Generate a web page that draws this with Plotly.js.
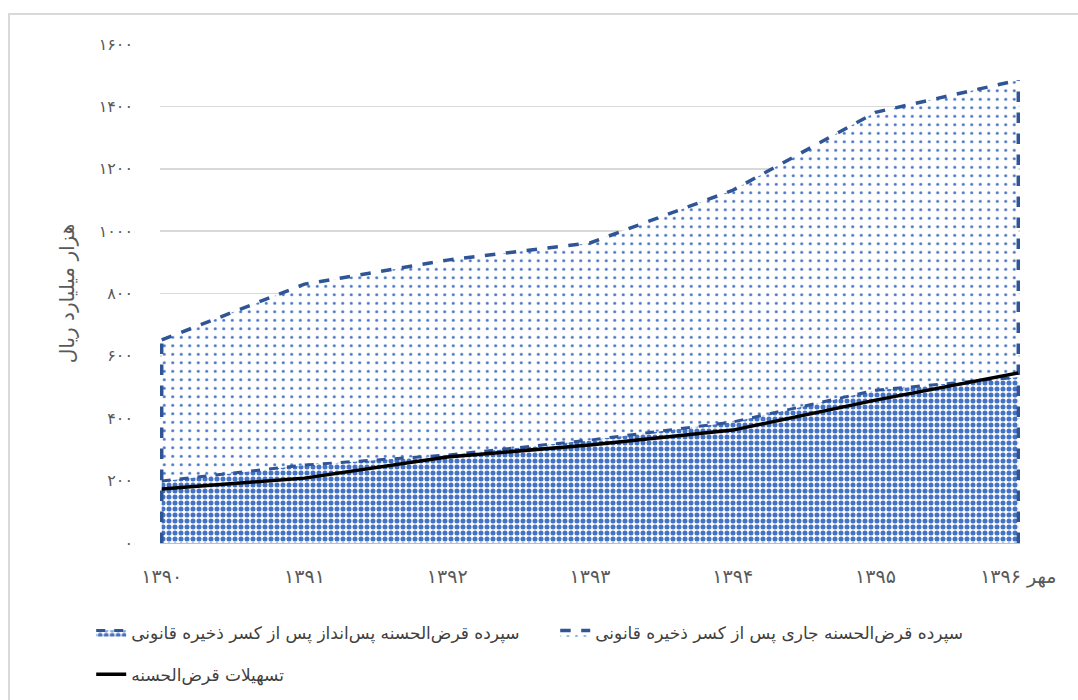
<!DOCTYPE html>
<html>
<head>
<meta charset="utf-8">
<script src="https://cdn.plot.ly/plotly-3.0.1.min.js"></script>
<style>
  html, body { margin: 0; padding: 0; background: #ffffff; }
  #chart { width: 1078px; height: 700px; }
  #frame { position: absolute; left: 8px; top: 13px; width: 1080px; height: 700px;
           border-left: 2px solid #d9d9d9; border-top: 2px solid #d9d9d9; pointer-events: none; }
</style>
</head>
<body>
<div id="chart"></div>
<div id="frame"></div>
<script>
// Categories (years) and their tick labels
const years = ["1390", "1391", "1392", "1393", "1394", "1395", "1396"];
const yearLabels = ["۱۳۹۰", "۱۳۹۱", "۱۳۹۲", "۱۳۹۳", "۱۳۹۴", "۱۳۹۵", "مهر ۱۳۹۶"];

// Series (thousand billion rials)
const savingsDeposits = [199, 250, 282, 330, 388, 490, 532];   // پس‌انداز (lower, dense pattern)
const currentDeposits = [452, 580, 625, 632, 743, 891, 952];   // جاری (stacked on top, dotted pattern)
const loans = [173, 208, 276, 314, 362, 458, 545];              // تسهیلات

// Y ticks
const yTickVals = [0, 200, 400, 600, 800, 1000, 1200, 1400, 1600];
const yTickText = ["۰", "۲۰۰", "۴۰۰", "۶۰۰", "۸۰۰", "۱۰۰۰", "۱۲۰۰", "۱۴۰۰", "۱۶۰۰"];

const nameSavings = "سپرده قرض‌الحسنه پس‌انداز پس از کسر ذخیره قانونی";
const nameCurrent = "سپرده قرض‌الحسنه جاری پس از کسر ذخیره قانونی";
const nameLoans = "تسهیلات قرض‌الحسنه";

const blue = "#4472c4";
const darkBlue = "#2f5597";
const totals = savingsDeposits.map((v, i) => v + currentDeposits[i]);
const first = years[0], last = years[years.length - 1];

const traces = [
  {
    x: years, y: savingsDeposits, name: nameSavings, type: "scatter", mode: "lines",
    stackgroup: "dep", legend: "legend",
    line: { color: darkBlue, width: 3, dash: "dash" },
    fillcolor: "rgba(255,255,255,0)",
    fillpattern: { shape: ".", fgcolor: blue, bgcolor: "#ffffff", size: 6, solidity: 0.55, fillmode: "replace" },
    hoverinfo: "skip"
  },
  {
    x: years, y: currentDeposits, name: nameCurrent, type: "scatter", mode: "lines",
    stackgroup: "dep", legend: "legend",
    line: { color: darkBlue, width: 3.5, dash: "dash" },
    fillcolor: "rgba(255,255,255,0)",
    fillpattern: { shape: ".", fgcolor: blue, bgcolor: "#ffffff", size: 8.5, solidity: 0.1, fillmode: "replace" },
    hoverinfo: "skip"
  },
  // vertical dashed outline edges of the stacked area
  {
    x: [first, first], y: [0, totals[0]], type: "scatter", mode: "lines", showlegend: false,
    line: { color: darkBlue, width: 3.5, dash: "dash" }, hoverinfo: "skip"
  },
  {
    x: [last, last], y: [0, totals[totals.length - 1]], type: "scatter", mode: "lines", showlegend: false,
    line: { color: darkBlue, width: 3.5, dash: "dash" }, hoverinfo: "skip"
  },
  {
    x: years, y: loans, name: nameLoans, type: "scatter", mode: "lines", legend: "legend2",
    line: { color: "#000000", width: 3.5 }, hoverinfo: "skip"
  }
];

const ff = "DejaVu Sans, sans-serif";
const legendFont = { family: ff, size: 17, color: "#404040" };

const layout = {
  width: 1078, height: 700,
  paper_bgcolor: "rgba(0,0,0,0)", plot_bgcolor: "#ffffff",
  margin: { l: 160, r: 58, t: 44, b: 157, pad: 0, autoexpand: false },
  font: { family: ff, color: "#595959" },
  showlegend: true,
  legend: {
    orientation: "h", x: -0.08, xanchor: "left", y: -0.144, yanchor: "top",
    traceorder: "normal", entrywidth: 419, entrywidthmode: "pixels",
    font: legendFont, itemwidth: 30, tracegroupgap: 0
  },
  legend2: {
    orientation: "h", x: -0.08, xanchor: "left", y: -0.228, yanchor: "top",
    traceorder: "normal", font: legendFont, itemwidth: 30
  },
  xaxis: {
    type: "category", range: [-0.012, 6.012],
    tickvals: years, ticktext: yearLabels,
    showgrid: false, zeroline: false,
    showline: true, linecolor: "#bfbfbf", linewidth: 1,
    ticks: "", ticklabelstandoff: 16,
    tickfont: { family: ff, size: 19, color: "#595959" },
    automargin: false, fixedrange: true
  },
  yaxis: {
    range: [0, 1600], tickvals: yTickVals, ticktext: yTickText,
    showgrid: true, gridcolor: "#d9d9d9", gridwidth: 1.5, zeroline: false,
    showline: false, ticks: "", ticklabelstandoff: 26,
    tickfont: { family: ff, size: 16, color: "#595959" },
    title: { text: "هزار میلیارد ریال", standoff: 18, font: { family: ff, size: 20, color: "#595959" } },
    automargin: false, fixedrange: true
  }
};

Plotly.newPlot("chart", traces, layout, { displayModeBar: false, staticPlot: true });
</script>
</body>
</html>
